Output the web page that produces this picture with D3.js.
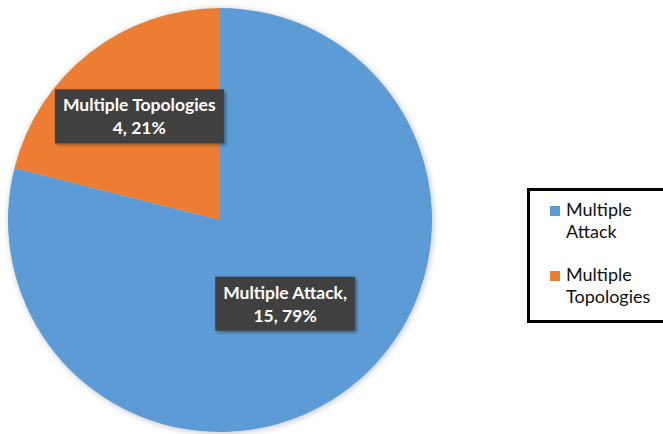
<!DOCTYPE html>
<html lang="en">
<head>
<meta charset="utf-8">
<title>Multiple Attack vs Multiple Topologies</title>
<script src="https://d3js.org/d3.v7.min.js"></script>
<style>
  body { margin: 0; background: #fff; }
  svg { display: block; }
  text { font-family: Lato, "Open Sans", sans-serif; }
</style>
</head>
<body>
<div id="chart"></div>
<script>
// data
var categories = ["Multiple Attack", "Multiple Topologies"];
var values     = [15, 4];
var colours    = ["#5b9bd5", "#ed7d31"];
// label lines as printed on the chart
var labelTop   = ["Multiple Attack,", "Multiple Topologies"];
var legendText = [["Multiple", "Attack"], ["Multiple", "Topologies"]];

var width = 663, height = 434;
var cx = 220, cy = 220, radius = 212;
var labelRadius = [0.5, 0.62];   // how far out each data label sits

var svg = d3.select("#chart").append("svg")
  .attr("width", width).attr("height", height);

var defs = svg.append("defs");
defs.append("filter").attr("id", "pieShadow")
  .attr("x", "-10%").attr("y", "-10%").attr("width", "120%").attr("height", "120%")
  .append("feDropShadow")
  .attr("dx", 1).attr("dy", 1).attr("stdDeviation", 3)
  .attr("flood-color", "#000").attr("flood-opacity", 0.25);
defs.append("filter").attr("id", "boxShadow")
  .attr("x", "-10%").attr("y", "-20%").attr("width", "130%").attr("height", "150%")
  .append("feDropShadow")
  .attr("dx", 2).attr("dy", 2).attr("stdDeviation", 1.5)
  .attr("flood-color", "#000").attr("flood-opacity", 0.35);

var total = d3.sum(values);
var pie = d3.pie().sort(null).value(function (d) { return d; });
var arcs = pie(values);
var arc = d3.arc().innerRadius(0).outerRadius(radius);

var g = svg.append("g").attr("transform", "translate(" + cx + "," + cy + ")");

g.append("g").attr("filter", "url(#pieShadow)")
  .selectAll("path").data(arcs).enter().append("path")
  .attr("d", arc)
  .attr("fill", function (d, i) { return colours[i]; });

// data labels
var labels = g.selectAll("g.lbl").data(arcs).enter().append("g")
  .attr("class", "lbl")
  .attr("transform", function (d, i) {
    var r = radius * labelRadius[i];
    var la = d3.arc().innerRadius(r).outerRadius(r);
    var c = la.centroid(d);
    return "translate(" + c[0] + "," + c[1] + ")";
  });

labels.each(function (d, i) {
  var sel = d3.select(this);
  var pct = Math.round(d.value / total * 100);
  var lines = [labelTop[i], d.value + ", " + pct + "%"];
  var rect = sel.append("rect").attr("fill", "#404040").attr("filter", "url(#boxShadow)");
  var txt = sel.append("text")
    .attr("text-anchor", "middle")
    .attr("fill", "#fff")
    .attr("font-weight", "bold")
    .attr("font-size", 17.5);
  lines.forEach(function (l, k) {
    txt.append("tspan").attr("x", 0).attr("y", -5 + k * 23).text(l);
  });
  var bb = txt.node().getBBox();
  var padX = 8, padY = 5;
  rect.attr("x", bb.x - padX).attr("y", bb.y - padY)
    .attr("width", bb.width + 2 * padX).attr("height", bb.height + 2 * padY);
});

// legend
var legend = svg.append("g").attr("transform", "translate(527,188)");
legend.append("rect")
  .attr("x", 1.5).attr("y", 1.5).attr("width", 150).attr("height", 132)
  .attr("fill", "#fff").attr("stroke", "#000").attr("stroke-width", 3);

var item = legend.selectAll("g.item").data(categories).enter().append("g")
  .attr("class", "item")
  .attr("transform", function (d, i) { return "translate(23," + (28 + i * 65) + ")"; });
item.append("rect")
  .attr("x", 0).attr("y", -10).attr("width", 10).attr("height", 10)
  .attr("fill", function (d, i) { return colours[i]; });
item.append("text")
  .attr("font-size", 18).attr("fill", "#111")
  .each(function (d, i) {
    var t = d3.select(this);
    legendText[i].forEach(function (l, k) {
      t.append("tspan").attr("x", 16).attr("y", k * 22).text(l);
    });
  });
</script>
</body>
</html>
